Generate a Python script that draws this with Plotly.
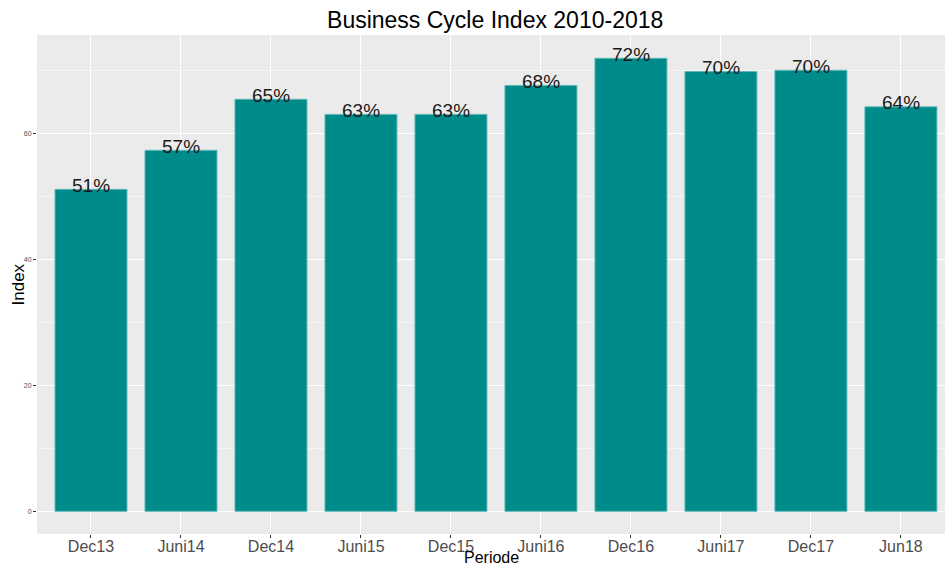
import plotly.graph_objects as go

periods = ["Dec13", "Juni14", "Dec14", "Juni15", "Dec15", "Juni16", "Dec16", "Juni17", "Dec17", "Jun18"]
index_values = [51.1, 57.3, 65.4, 63.0, 63.0, 67.6, 71.9, 69.8, 70.0, 64.2]
labels = ["51%", "57%", "65%", "63%", "63%", "68%", "72%", "70%", "70%", "64%"]

fig = go.Figure()
fig.add_trace(go.Bar(
    x=list(range(len(periods))), y=index_values, width=0.8,
    marker=dict(color="#008B8B", line=dict(color="#5FB8B8", width=1)),
    showlegend=False, hoverinfo="skip",
))
for i, (v, t) in enumerate(zip(index_values, labels)):
    fig.add_annotation(x=i, y=v, text=t, showarrow=False, yanchor="middle", yshift=4,
                       font=dict(size=19, color="#1a1a1a", family="Liberation Sans, Arial"))

fig.add_annotation(xref="paper", yref="paper", x=0.5, y=0, yanchor="middle", yshift=-23,
                   text="Periode", showarrow=False,
                   font=dict(size=16, color="black", family="Liberation Sans, Arial"))
fig.add_annotation(xref="paper", yref="paper", x=0, y=0.5, xanchor="center", xshift=-19,
                   text="Index", textangle=-90, showarrow=False,
                   font=dict(size=17, color="black", family="Liberation Sans, Arial"))

fig.update_layout(
    width=945, height=565,
    margin=dict(l=37, r=0, t=35, b=31),
    paper_bgcolor="white", plot_bgcolor="#EBEBEB",
    title=dict(text="Business Cycle Index 2010-2018", x=0.524, xanchor="center", y=0.965, yanchor="middle",
               font=dict(size=23, color="black", family="Liberation Sans, Arial")),
    xaxis=dict(
        range=[-0.6, 9.49], tickmode="array", tickvals=list(range(len(periods))), ticktext=periods,
        showgrid=True, gridcolor="white", gridwidth=1, zeroline=False,
        ticks="outside", ticklen=3, tickcolor="#333333", tickwidth=1,
        ticklabelstandoff=-5,
        tickfont=dict(size=16, color="#4D4D4D", family="Liberation Sans, Arial"),
        showline=False,
    ),
    yaxis=dict(
        range=[-3.6, 75.6], tickmode="array", tickvals=[0, 20, 40, 60],
        showgrid=True, gridcolor="white", gridwidth=1.2, zeroline=False,
        minor=dict(tickvals=[10, 30, 50, 70], showgrid=True, gridcolor="#F5F5F5", gridwidth=0.6, ticks=""),
        ticks="outside", ticklen=3, tickcolor="#333333", tickwidth=1,
        tickfont=dict(size=7, color="#4D4D4D", family="Liberation Sans, Arial"),
        showline=False,
    ),
)

fig.write_html("out.html", config={"displayModeBar": False},
               post_script="document.body.style.margin='0';document.body.style.overflow='hidden';")
